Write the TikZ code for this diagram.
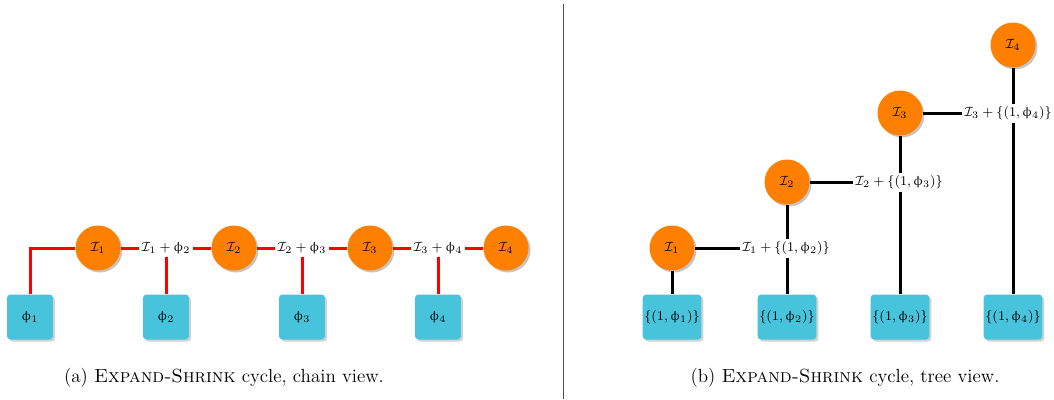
\documentclass[tikz,border=0pt]{standalone}
\usepackage{amsmath}
\usepackage{amssymb}
\usepackage{upgreek}
\usetikzlibrary{
  shadows,
  positioning
}
\definecolor{leafblue}{RGB}{72,195,220}

\begin{document}
\begin{tikzpicture}[x=0.6pt, y=-0.6pt,
  interp/.style = {shape=circle, fill=orange, minimum size=27pt,
    inner sep=0pt, font=\footnotesize,
    drop shadow={shadow xshift=1.2pt, shadow yshift=-1.2pt, fill=black!45}},
  leaf/.style = {shape=rectangle, rounded corners=2pt, fill=leafblue,
    minimum width=27.5pt, minimum height=27pt, inner sep=1pt,
    font=\footnotesize,
    drop shadow={shadow xshift=1.2pt, shadow yshift=-1.2pt, fill=black!35}},
  merge/.style = {inner sep=1.5pt, font=\footnotesize},
  chain/.style = {draw=red, line width=1.8pt},
  tree/.style = {draw=black, line width=1.8pt},
  caption/.style = {font=\fontsize{11.4}{14}\selectfont}]
  \useasboundingbox (0,0) rectangle (1054,399);

  % chain view
  \node[interp] (c1) at (98,248)  {$\mathcal{I}_1$};
  \node[merge]  (l1) at (166,248) {$\mathcal{I}_1 + \upphi_2$};
  \node[interp] (c2) at (234,248) {$\mathcal{I}_2$};
  \node[merge]  (l2) at (302,248) {$\mathcal{I}_2 + \upphi_3$};
  \node[interp] (c3) at (370,248) {$\mathcal{I}_3$};
  \node[merge]  (l3) at (438,248) {$\mathcal{I}_3 + \upphi_4$};
  \node[interp] (c4) at (506,248) {$\mathcal{I}_4$};
  \node[leaf] (p1) at (30,317)  {$\upphi_1$};
  \node[leaf] (p2) at (166,317) {$\upphi_2$};
  \node[leaf] (p3) at (302,317) {$\upphi_3$};
  \node[leaf] (p4) at (438,317) {$\upphi_4$};
  \draw[chain] (p1) |- (c1);
  \draw[chain] (c1) -- (l1) -- (c2) -- (l2) -- (c3) -- (l3) -- (c4);
  \draw[chain] (l1) -- (p2);
  \draw[chain] (l2) -- (p3);
  \draw[chain] (l3) -- (p4);

  \draw[black!70] (563,4) -- (563,399);

  % tree view
  \node[interp] (t1) at (672,248)  {$\mathcal{I}_1$};
  \node[interp] (t2) at (787,182)  {$\mathcal{I}_2$};
  \node[interp] (t3) at (900,113)  {$\mathcal{I}_3$};
  \node[interp] (t4) at (1013,45)  {$\mathcal{I}_4$};
  \node[merge] (m1) at (786,248)  {$\mathcal{I}_1 + \{(1,\upphi_2)\}$};
  \node[merge] (m2) at (899,182)  {$\mathcal{I}_2 + \{(1,\upphi_3)\}$};
  \node[merge] (m3) at (1008,113) {$\mathcal{I}_3 + \{(1,\upphi_4)\}$};
  \node[leaf, minimum width=33pt] (s1) at (672,317)  {$\{(1,\upphi_1)\}$};
  \node[leaf, minimum width=33pt] (s2) at (787,317)  {$\{(1,\upphi_2)\}$};
  \node[leaf, minimum width=33pt] (s3) at (900,317)  {$\{(1,\upphi_3)\}$};
  \node[leaf, minimum width=33pt] (s4) at (1013,317) {$\{(1,\upphi_4)\}$};
  \draw[tree] (s1) -- (t1);
  \draw[tree] (t1) -- (m1);
  \draw[tree] (m1.south -| t2) -- (s2);
  \draw[tree] (m1.north -| t2) -- (t2);
  \draw[tree] (t2) -- (m2);
  \draw[tree] (m2.north -| t3) -- (t3);
  \draw[tree] (m2.south -| t3) -- (s3);
  \draw[tree] (t3) -- (m3);
  \draw[tree] (m3.north -| t4) -- (t4);
  \draw[tree] (m3.south -| t4) -- (s4);

  \node[caption] (capa) at (224,378) {(a) \textsc{Expand-Shrink} cycle, chain view.};
  \node[caption] (capb) at (845,378) {(b) \textsc{Expand-Shrink} cycle, tree view.};
\end{tikzpicture}
\end{document}
